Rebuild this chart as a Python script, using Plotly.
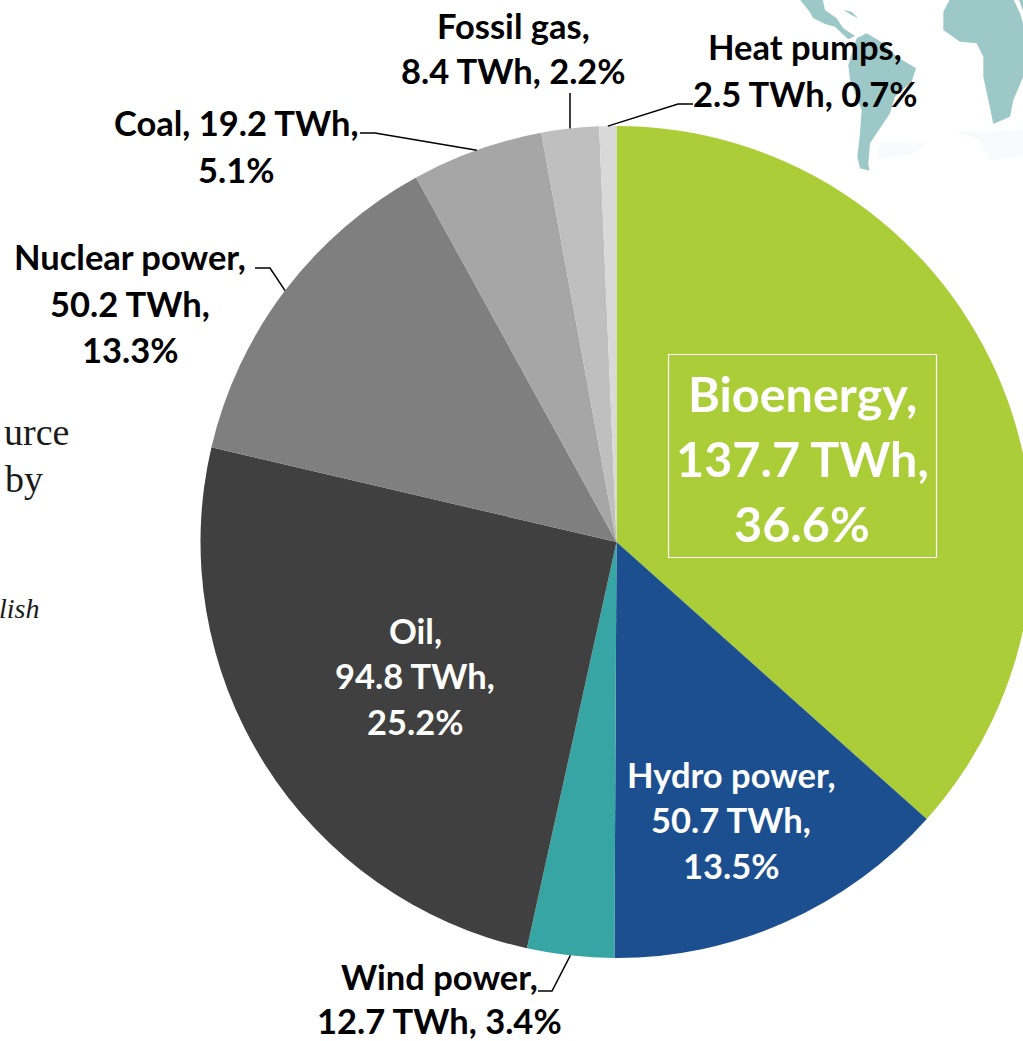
import math
import plotly.graph_objects as go

# ---- data ----
sources = ["Bioenergy", "Hydro power", "Wind power", "Oil", "Nuclear power", "Coal", "Fossil gas", "Heat pumps"]
twh = [137.7, 50.7, 12.7, 94.8, 50.2, 19.2, 8.4, 2.5]
colors = ["#abcd37", "#1c4f8f", "#36a5a3", "#404040", "#7f7f7f", "#a6a6a6", "#bfbfbf", "#d9d9d9"]

label_lines = {
    "Bioenergy": ["Bioenergy,", "137.7 TWh,", "36.6%"],
    "Hydro power": ["Hydro power,", "50.7 TWh,", "13.5%"],
    "Wind power": ["Wind power,", "12.7 TWh, 3.4%"],
    "Oil": ["Oil,", "94.8 TWh,", "25.2%"],
    "Nuclear power": ["Nuclear power,", "50.2 TWh,", "13.3%"],
    "Coal": ["Coal, 19.2 TWh,", "5.1%"],
    "Fossil gas": ["Fossil gas,", "8.4 TWh, 2.2%"],
    "Heat pumps": ["Heat pumps,", "2.5 TWh, 0.7%"],
}
# label placement: centre x, first-line centre y, line step, size, colour
label_pos = {
    "Bioenergy": (802, 393, 65, 48.5, "white"),
    "Hydro power": (731, 774, 45.5, 34.5, "white"),
    "Wind power": (439, 976, 44, 34.5, "black"),
    "Oil": (415, 630, 45.5, 34.5, "white"),
    "Nuclear power": (130, 257, 46, 34.5, "black"),
    "Coal": (236, 123, 46, 34.5, "black"),
    "Fossil gas": (513, 25, 46, 34.5, "black"),
    "Heat pumps": (805, 47, 46, 34.5, "black"),
}
# elbow points of the leader lines: text end, elbow
leaders = {
    "Wind power": ((538, 991), (552, 991)),
    "Nuclear power": ((255, 268), (270, 268)),
    "Coal": ((360, 133), (375, 133)),
    "Fossil gas": ((570, 93), (570, 93)),
    "Heat pumps": ((693, 104), (678, 104)),
}
page_fragments = [("urce", 71, 432, 38, False), ("by", 45, 479, 38, False), ("lish", 41, 608, 28, True)]

W, H = 1040, 1041
CX, CY, R = 616.5, 542.0, 416.0
px = lambda x: x / W
py = lambda y: 1 - y / H


def poly(points):
    return "M " + " L ".join(f"{px(x)} {py(y)}" for x, y in points) + " Z"


def zoomed(points):
    return [(780 + x / 3, y / 3) for x, y in points]


continents = [
    [(58, -3), (85, 30), (100, 55), (135, 72), (165, 80), (185, 100), (205, 118), (225, 108), (190, 85), (170, 55), (135, 30), (128, -3)],
    [(205, 195), (230, 115), (260, 100), (310, 130), (350, 170), (408, 205), (395, 245), (345, 290), (330, 340), (300, 385),
     (270, 430), (265, 490), (268, 512), (240, 505), (232, 470), (240, 400), (245, 330), (210, 240)],
    [(490, 35), (510, -3), (700, -3), (720, 40), (732, 80), (732, 225), (700, 300), (690, 350), (640, 372), (625, 300),
     (610, 230), (610, 170), (590, 130), (540, 125), (490, 90)],
    [(190, 30), (215, 35), (235, 55), (215, 45)],
    [(716, -3), (732, -3), (732, 40)],
]
faint_land = [
    [(300, 425), (440, 430), (400, 460), (290, 480)],
    [(530, 395), (732, 390), (732, 470), (630, 480), (600, 420)],
]

shapes = []
for c in faint_land:
    shapes.append(dict(type="path", xref="paper", yref="paper", path=poly(zoomed(c)),
                       fillcolor="#f8fbfb", line=dict(width=0), layer="below"))
for c in continents:
    shapes.append(dict(type="path", xref="paper", yref="paper", path=poly(zoomed(c)),
                       fillcolor="#9cc8c8", line=dict(width=0), layer="below"))

total = sum(twh)
cum = 0.0
for name, v in zip(sources, twh):
    mid = (cum + v / 2) / total * 2 * math.pi
    cum += v
    if name in leaders:
        ex, ey = CX + R * math.sin(mid), CY - R * math.cos(mid)
        a, b = leaders[name]
        shapes.append(dict(type="path", xref="paper", yref="paper", layer="above",
                           path=f"M {px(a[0])} {py(a[1])} L {px(b[0])} {py(b[1])} L {px(ex)} {py(ey)}",
                           line=dict(color="black", width=1.5)))

# box round the Bioenergy label
shapes.append(dict(type="rect", xref="paper", yref="paper", layer="above",
                   x0=px(668.5), x1=px(936.5), y0=py(557.5), y1=py(354.5),
                   line=dict(color="white", width=1.2)))

annotations = []
for name in sources:
    cx, cy, step, size, col = label_pos[name]
    for i, line in enumerate(label_lines[name]):
        annotations.append(dict(xref="paper", yref="paper", x=px(cx), y=py(cy + i * step), text=f"<b>{line}</b>",
                                showarrow=False, xanchor="center", yanchor="middle",
                                font=dict(family="Lato", size=size, color=col)))
for text, x, y, size, italic in page_fragments:
    annotations.append(dict(xref="paper", yref="paper", x=px(x), y=py(y), text=f"<i>{text}</i>" if italic else text,
                            showarrow=False, xanchor="right", yanchor="middle",
                            font=dict(family="Liberation Serif", size=size, color="#1a1a1a")))

fig = go.Figure(go.Pie(
    labels=sources, values=twh, sort=False, direction="clockwise", rotation=0,
    marker=dict(colors=colors, line=dict(width=0)),
    textinfo="none", hoverinfo="label+value+percent", showlegend=False,
    domain=dict(x=[(CX - R) / W, (CX + R) / W], y=[1 - (CY + R) / H, 1 - (CY - R) / H]),
))
fig.update_layout(width=W, height=H, autosize=False, margin=dict(l=0, r=0, t=0, b=0),
                  paper_bgcolor="white", plot_bgcolor="white", shapes=shapes, annotations=annotations)
fig.write_html("out.html", config={"displayModeBar": False}, post_script=(
    "document.body.style.margin='0';document.documentElement.style.overflow='hidden';"
    "document.body.style.overflow='hidden';"))
